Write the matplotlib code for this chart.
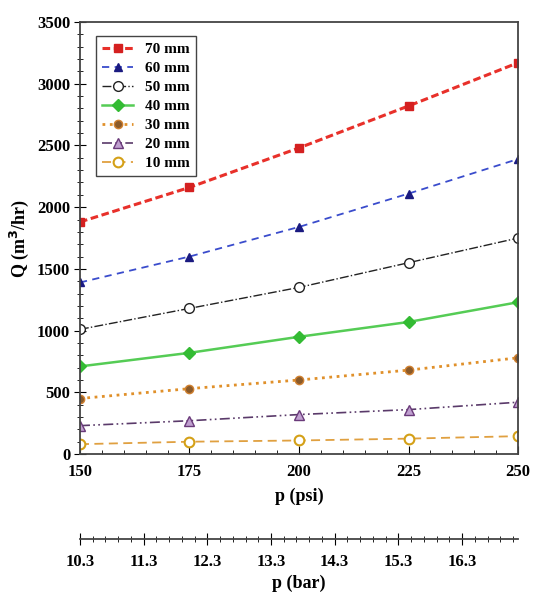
import matplotlib.pyplot as plt
from matplotlib.ticker import MultipleLocator, FixedLocator

plt.rcParams['font.family'] = ['Liberation Serif', 'DejaVu Serif']
plt.rcParams['font.weight'] = 'bold'

# data
p_psi = [150, 175, 200, 225, 250]
q_70 = [1880, 2160, 2480, 2820, 3170]
q_60 = [1390, 1600, 1840, 2110, 2390]
q_50 = [1010, 1180, 1350, 1550, 1750]
q_40 = [710, 820, 950, 1070, 1230]
q_30 = [450, 530, 600, 680, 780]
q_20 = [230, 270, 320, 360, 420]
q_10 = [80, 100, 110, 125, 145]
labels = ['70 mm', '60 mm', '50 mm', '40 mm', '30 mm', '20 mm', '10 mm']
bar_ticks = [10.3, 11.3, 12.3, 13.3, 14.3, 15.3, 16.3]

fig = plt.figure(figsize=(5.33, 6.03), dpi=100)
ax = fig.add_axes([0.150, 0.247, 0.822, 0.7165])

ax.plot(p_psi, q_70, color='#e8302a', ls=(0, (2.5, 1.2)), lw=2.2, marker='s', ms=6,
        mfc='#d42020', mec='#d42020', label=labels[0])
ax.plot(p_psi, q_60, color='#3a4ccc', ls=(0, (4, 3)), lw=1.3, marker='^', ms=6,
        mfc='#1a1a80', mec='#1a1a80', label=labels[1])
ax.plot(p_psi, q_50, color='#222222', ls='-.', lw=1.0, marker='o', ms=7,
        mfc='white', mec='#222222', label=labels[2])
ax.plot(p_psi, q_40, color='#55cc55', ls='-', lw=1.8, marker='D', ms=6,
        mfc='#33bb33', mec='#33bb33', label=labels[3])
ax.plot(p_psi, q_30, color='#e0902a', ls=':', lw=2, marker='o', ms=6,
        mfc='#8a5a2a', mec='#d08030', label=labels[4])
ax.plot(p_psi, q_20, color='#5a3a6a', ls=(0, (6, 2, 1, 2, 1, 2)), lw=1.2, marker='^', ms=7,
        mfc='#c0a0d0', mec='#6a3a7a', label=labels[5])
ax.plot(p_psi, q_10, color='#e0a040', ls=(0, (5, 3)), lw=1.3, marker='o', ms=7,
        mfc='white', mec='#d4a017', mew=1.5, label=labels[6])

ax.set_xlim(150, 250)
ax.set_ylim(0, 3500)
ax.xaxis.set_major_locator(MultipleLocator(25))
ax.xaxis.set_minor_locator(MultipleLocator(5))
ax.yaxis.set_major_locator(MultipleLocator(500))
ax.yaxis.set_minor_locator(MultipleLocator(100))
ax.tick_params(axis='x', which='both', direction='in', labelsize=12, pad=7)
ax.tick_params(axis='x', which='major', length=6)
ax.tick_params(axis='x', which='minor', length=3)
ax.tick_params(axis='y', which='both', direction='inout', labelsize=12, pad=3)
ax.tick_params(axis='y', which='major', length=8)
ax.tick_params(axis='y', which='minor', length=4)
for s in ax.spines.values():
    s.set_color('#444444')
    s.set_linewidth(1.3)

ax.set_xlabel('p (psi)', fontsize=13, fontweight='bold', labelpad=6)
ax.set_ylabel('Q (m$^\\mathbf{3}$/hr)', fontsize=13, fontweight='bold', labelpad=4)

leg = ax.legend(loc='upper left', bbox_to_anchor=(0.02, 0.985), fontsize=11,
                fancybox=False, edgecolor='#444444', framealpha=1,
                handlelength=2.0, borderpad=0.4, labelspacing=0.35)
leg.get_frame().set_linewidth(1.0)

# secondary axis in bar
ax2 = fig.add_axes([0.150, 0.106, 0.822, 0.0001])
ax2.set_xlim(10.3, 17.18)
ax2.set_yticks([])
for side in ['top', 'left', 'right']:
    ax2.spines[side].set_visible(False)
ax2.spines['bottom'].set_color('#444444')
ax2.spines['bottom'].set_linewidth(1.3)
ax2.xaxis.set_major_locator(FixedLocator(bar_ticks))
minors = [round(10.3 + 0.2 * i, 1) for i in range(0, 35)]
ax2.xaxis.set_minor_locator(FixedLocator(minors))
ax2.set_xticklabels([f'{t:.1f}' for t in bar_ticks])
ax2.tick_params(axis='x', which='both', direction='inout', labelsize=12, pad=7)
ax2.tick_params(axis='x', which='major', length=8)
ax2.tick_params(axis='x', which='minor', length=4)
ax2.set_xlabel('p (bar)', fontsize=13, fontweight='bold', labelpad=3)

fig.savefig('out.png', dpi=100)
